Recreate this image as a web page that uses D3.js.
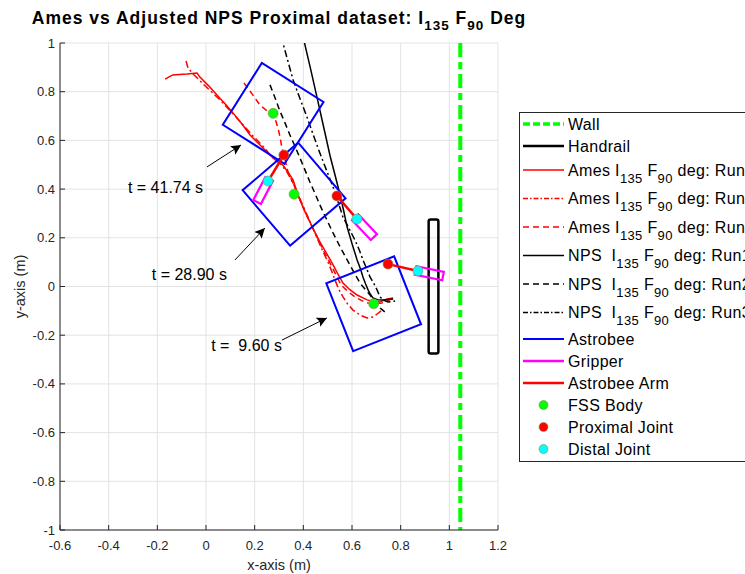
<!DOCTYPE html>
<html>
<head>
<meta charset="utf-8">
<script src="https://cdn.jsdelivr.net/npm/d3@7"></script>
<style>
  body { margin: 0; background: #fff; }
  svg text { font-family: Arial, "Liberation Sans", Helvetica, sans-serif; white-space: pre; }
</style>
</head>
<body>
<svg id="chart" width="745" height="574"></svg>
<script>
// ---------------- data ----------------
const titleText = "Ames vs Adjusted NPS Proximal dataset: I_{135} F_{90} Deg";
const xTicks = [-0.6, -0.4, -0.2, 0, 0.2, 0.4, 0.6, 0.8, 1, 1.2];
const xTickLabels = ["-0.6", "-0.4", "-0.2", "0", "0.2", "0.4", "0.6", "0.8", "1", "1.2"];
const yTicks = [-1, -0.8, -0.6, -0.4, -0.2, 0, 0.2, 0.4, 0.6, 0.8, 1];
const yTickLabels = ["-1", "-0.8", "-0.6", "-0.4", "-0.2", "0", "0.2", "0.4", "0.6", "0.8", "1"];

// trajectories [x, y] in metres
const amesRun1 = [[-0.168, 0.852], [-0.150, 0.862], [-0.136, 0.869], [-0.110, 0.871], [-0.078, 0.873], [-0.037, 0.877],
  [-0.025, 0.860], [0.010, 0.825], [0.045, 0.786], [0.080, 0.748], [0.111, 0.713], [0.150, 0.664], [0.181, 0.622],
  [0.222, 0.581], [0.263, 0.540], [0.290, 0.515], [0.316, 0.499], [0.340, 0.465], [0.358, 0.437], [0.372, 0.395],
  [0.386, 0.355], [0.405, 0.310], [0.427, 0.265], [0.448, 0.222], [0.468, 0.183], [0.493, 0.140], [0.518, 0.097],
  [0.540, 0.055], [0.563, 0.014], [0.590, -0.012], [0.621, -0.035], [0.662, -0.055], [0.690, -0.062],
  [0.715, -0.064], [0.744, -0.051], [0.769, -0.047]];
const amesRun2 = [[-0.082, 0.926], [-0.074, 0.897], [-0.053, 0.873], [-0.012, 0.832], [0.058, 0.766], [0.127, 0.692],
  [0.197, 0.614], [0.240, 0.570], [0.271, 0.532], [0.305, 0.505], [0.333, 0.470], [0.355, 0.430], [0.374, 0.388],
  [0.395, 0.340], [0.415, 0.294], [0.438, 0.242], [0.460, 0.191], [0.480, 0.145], [0.501, 0.101], [0.517, 0.062],
  [0.530, 0.027], [0.545, -0.010], [0.563, -0.043], [0.582, -0.072], [0.604, -0.097], [0.635, -0.118],
  [0.662, -0.129], [0.686, -0.125], [0.705, -0.112], [0.723, -0.097]];
const amesRun3 = [[0.156, 0.836], [0.190, 0.790], [0.222, 0.745], [0.250, 0.722], [0.271, 0.713], [0.285, 0.685],
  [0.296, 0.651], [0.305, 0.610], [0.312, 0.569], [0.325, 0.520], [0.337, 0.470], [0.358, 0.424], [0.378, 0.376],
  [0.398, 0.328], [0.419, 0.281], [0.444, 0.228], [0.468, 0.178], [0.490, 0.133], [0.514, 0.088], [0.535, 0.046],
  [0.555, 0.006], [0.585, -0.022], [0.612, -0.043], [0.640, -0.058], [0.666, -0.068], [0.700, -0.070],
  [0.723, -0.068], [0.756, -0.055]];
const npsRun1 = [[0.398, 1.030], [0.403, 1.008], [0.430, 0.893], [0.456, 0.778], [0.483, 0.657], [0.510, 0.536],
  [0.531, 0.455], [0.551, 0.376], [0.566, 0.310], [0.580, 0.244], [0.600, 0.176], [0.621, 0.109], [0.635, 0.072],
  [0.645, 0.039], [0.656, 0.010], [0.666, -0.014], [0.676, -0.033], [0.686, -0.047], [0.705, -0.054],
  [0.727, -0.055], [0.750, -0.053], [0.769, -0.051]];
const npsRun2 = [[0.263, 0.828], [0.284, 0.774], [0.304, 0.720], [0.325, 0.671], [0.345, 0.622], [0.366, 0.575],
  [0.386, 0.528], [0.407, 0.478], [0.427, 0.429], [0.448, 0.382], [0.468, 0.335], [0.495, 0.277], [0.522, 0.220],
  [0.551, 0.163], [0.580, 0.109], [0.607, 0.060], [0.633, 0.014], [0.655, -0.013], [0.674, -0.035],
  [0.690, -0.057], [0.703, -0.076], [0.720, -0.092], [0.736, -0.105]];
const npsRun3 = [[0.310, 1.030], [0.316, 1.000], [0.337, 0.924], [0.358, 0.848], [0.386, 0.772], [0.415, 0.696],
  [0.441, 0.622], [0.468, 0.548], [0.495, 0.478], [0.522, 0.409], [0.543, 0.347], [0.563, 0.285], [0.588, 0.238],
  [0.612, 0.191], [0.630, 0.150], [0.645, 0.109], [0.660, 0.074], [0.674, 0.039], [0.690, 0.012],
  [0.703, -0.014], [0.715, -0.043], [0.730, -0.056], [0.748, -0.064], [0.777, -0.060]];

// environment
const wallX = 1.045;
const handrailX = [0.915, 0.955];
const handrailY = [-0.275, 0.275];

// astrobee snapshots (t = 9.60 s, 28.90 s, 41.74 s)
const astrobeeSide = 0.30;
const bodyX = [0.689, 0.362, 0.276];
const bodyY = [-0.071, 0.379, 0.711];
const bodyAngle = [21.6, 40.5, 57.7];
const proxX = [0.748, 0.538, 0.320];
const proxY = [0.092, 0.372, 0.540];
const distX = [0.871, 0.620, 0.255];
const distY = [0.064, 0.277, 0.433];
const gripX = [0.974, 0.690, 0.210];
const gripY = [0.043, 0.203, 0.347];

// time annotations
const annotText = ["t = 41.74 s", "t = 28.90 s", "t =  9.60 s"];
const annotTextX = [-0.012, 0.086, 0.312];
const annotTextY = [0.384, 0.027, -0.265];
const arrowFromX = [0.004, 0.119, 0.312];
const arrowFromY = [0.491, 0.109, -0.220];
const arrowToX = [0.144, 0.242, 0.497];
const arrowToY = [0.581, 0.240, -0.129];

const legendLabels = ["Wall", "Handrail",
  "Ames I_{135} F_{90} deg: Run1", "Ames I_{135} F_{90} deg: Run2", "Ames I_{135} F_{90} deg: Run3",
  "NPS  I_{135} F_{90} deg: Run1", "NPS  I_{135} F_{90} deg: Run2", "NPS  I_{135} F_{90} deg: Run3",
  "Astrobee", "Gripper", "Astrobee Arm", "FSS Body", "Proximal Joint", "Distal Joint"];

// ---------------- layout ----------------
const margin = { top: 43, right: 247, bottom: 44, left: 60 };
const width = 745 - margin.left - margin.right;
const height = 574 - margin.top - margin.bottom;

const svg = d3.select("#chart");
const x = d3.scaleLinear().domain([-0.6, 1.2]).range([0, width]);
const y = d3.scaleLinear().domain([-1, 1]).range([height, 0]);

const dashStyles = { solid: null, dash: "6,4", dashdot: "7,3,2,3" };
const lineStyles = [
  { data: amesRun1, color: "#ff0000", dash: "solid", w: 1.5 },
  { data: amesRun2, color: "#ff0000", dash: "dashdot", w: 1.5 },
  { data: amesRun3, color: "#ff0000", dash: "dash", w: 1.5 },
  { data: npsRun1, color: "#000000", dash: "solid", w: 1.5 },
  { data: npsRun2, color: "#000000", dash: "dash", w: 1.5 },
  { data: npsRun3, color: "#000000", dash: "dashdot", w: 1.5 }
];

// write a MATLAB-like tex label with _{..} subscripts
function richText(sel, str, subSize, shift)
{
  const parts = str.split(/_\{([^}]*)\}/);
  parts.forEach((p, i) =>
  {
    if (p === "") return;
    const t = sel.append("tspan").text(p);
    if (i % 2 === 1) t.attr("font-size", subSize).attr("dy", shift);
    else if (i > 0) t.attr("dy", -shift);
  });
}

svg.append("defs").append("clipPath").attr("id", "clip")
  .append("rect").attr("width", width).attr("height", height);
svg.select("defs").append("marker")
  .attr("id", "arrow").attr("viewBox", "0 0 10 10")
  .attr("refX", 10).attr("refY", 5)
  .attr("markerWidth", 10).attr("markerHeight", 10)
  .attr("markerUnits", "userSpaceOnUse")
  .attr("orient", "auto")
  .append("path").attr("d", "M0,0 L10,5 L0,10 L2,5 Z").attr("fill", "#000");

const g = svg.append("g").attr("transform", `translate(${ margin.left }, ${ margin.top })`);

// grid
g.append("g").selectAll("line").data(xTicks).join("line")
  .attr("x1", d => x(d)).attr("x2", d => x(d)).attr("y1", 0).attr("y2", height)
  .attr("stroke", "#e3e3e3").attr("stroke-width", 1);
g.append("g").selectAll("line").data(yTicks).join("line")
  .attr("x1", 0).attr("x2", width).attr("y1", d => y(d)).attr("y2", d => y(d))
  .attr("stroke", "#e3e3e3").attr("stroke-width", 1);

const plot = g.append("g").attr("clip-path", "url(#clip)");

// wall
plot.append("line")
  .attr("x1", x(wallX)).attr("x2", x(wallX)).attr("y1", y(1)).attr("y2", y(-1))
  .attr("stroke", "#00ff00").attr("stroke-width", 4).attr("stroke-dasharray", "14,5,7,5");

// handrail
plot.append("rect")
  .attr("x", x(handrailX[0])).attr("y", y(handrailY[1]))
  .attr("width", x(handrailX[1]) - x(handrailX[0]))
  .attr("height", y(handrailY[0]) - y(handrailY[1]))
  .attr("rx", 2).attr("fill", "none").attr("stroke", "#000").attr("stroke-width", 2.5);

// trajectories
const line = d3.line().x(d => x(d[0])).y(d => y(d[1]));
plot.selectAll("path.traj").data(lineStyles).join("path")
  .attr("class", "traj")
  .attr("d", d => line(d.data))
  .attr("fill", "none")
  .attr("stroke", d => d.color)
  .attr("stroke-width", d => d.w)
  .attr("stroke-dasharray", d => dashStyles[d.dash]);

// astrobee snapshots
const poseIdx = d3.range(bodyX.length);
const squareCorners = i =>
{
  const a = bodyAngle[i] * Math.PI / 180, h = astrobeeSide / 2;
  return [[-h, -h], [h, -h], [h, h], [-h, h]].map(([u, v]) =>
    [bodyX[i] + u * Math.cos(a) - v * Math.sin(a), bodyY[i] + u * Math.sin(a) + v * Math.cos(a)]);
};
const gripperCorners = i =>
{
  const dx = gripX[i] - distX[i], dy = gripY[i] - distY[i];
  const len = Math.hypot(dx, dy), ux = dx / len, uy = dy / len, w = 0.0175;
  const sx = distX[i] - ux * 0.01, sy = distY[i] - uy * 0.01;
  return [[sx - uy * w, sy + ux * w], [gripX[i] - uy * w, gripY[i] + ux * w],
    [gripX[i] + uy * w, gripY[i] - ux * w], [sx + uy * w, sy - ux * w]];
};
const poly = pts => "M" + pts.map(p => `${ x(p[0]) },${ y(p[1]) }`).join("L") + "Z";

plot.selectAll("path.bee").data(poseIdx).join("path")
  .attr("class", "bee").attr("d", i => poly(squareCorners(i)))
  .attr("fill", "none").attr("stroke", "#0000ff").attr("stroke-width", 2);
plot.selectAll("path.grip").data(poseIdx).join("path")
  .attr("class", "grip").attr("d", i => poly(gripperCorners(i)))
  .attr("fill", "none").attr("stroke", "#ff00ff").attr("stroke-width", 2.2);
plot.selectAll("line.arm").data(poseIdx).join("line")
  .attr("class", "arm")
  .attr("x1", i => x(proxX[i])).attr("y1", i => y(proxY[i]))
  .attr("x2", i => x(distX[i])).attr("y2", i => y(distY[i]))
  .attr("stroke", "#ff0000").attr("stroke-width", 2.5);

const dot = (cx, cy, fill) => plot.selectAll(null).data(poseIdx).join("circle")
  .attr("cx", i => x(cx[i])).attr("cy", i => y(cy[i])).attr("r", 5)
  .attr("fill", fill).attr("stroke", "#8a8a50").attr("stroke-width", 0.6);
dot(bodyX, bodyY, "#00ff00");
dot(proxX, proxY, "#ff0000");
dot(distX, distY, "#00ffff");

// annotations
g.selectAll("line.annot").data(annotText).join("line")
  .attr("class", "annot")
  .attr("x1", (d, i) => x(arrowFromX[i])).attr("y1", (d, i) => y(arrowFromY[i]))
  .attr("x2", (d, i) => x(arrowToX[i])).attr("y2", (d, i) => y(arrowToY[i]))
  .attr("stroke", "#000").attr("stroke-width", 1)
  .attr("marker-end", "url(#arrow)");
g.selectAll("text.annot").data(annotText).join("text")
  .attr("class", "annot")
  .attr("x", (d, i) => x(annotTextX[i])).attr("y", (d, i) => y(annotTextY[i]))
  .attr("text-anchor", "end").attr("font-size", 16).attr("fill", "#000")
  .text(d => d);

// axes
g.append("line").attr("x1", 0).attr("x2", width).attr("y1", height).attr("y2", height)
  .attr("stroke", "#262626").attr("stroke-width", 1);
g.append("line").attr("x1", 0).attr("x2", 0).attr("y1", 0).attr("y2", height)
  .attr("stroke", "#262626").attr("stroke-width", 1);
g.append("g").selectAll("line").data(xTicks).join("line")
  .attr("x1", d => x(d)).attr("x2", d => x(d)).attr("y1", height).attr("y2", height - 5)
  .attr("stroke", "#262626");
g.append("g").selectAll("line").data(yTicks).join("line")
  .attr("x1", 0).attr("x2", 5).attr("y1", d => y(d)).attr("y2", d => y(d))
  .attr("stroke", "#262626");
g.append("g").selectAll("text").data(xTicks).join("text")
  .attr("x", d => x(d)).attr("y", height + 20)
  .attr("text-anchor", "middle").attr("font-size", 13).attr("fill", "#262626")
  .text((d, i) => xTickLabels[i]);
g.append("g").selectAll("text").data(yTicks).join("text")
  .attr("x", -5).attr("y", d => y(d) + 4.5)
  .attr("text-anchor", "end").attr("font-size", 13).attr("fill", "#262626")
  .text((d, i) => yTickLabels[i]);

g.append("text").attr("x", width / 2).attr("y", height + 40)
  .attr("text-anchor", "middle").attr("font-size", 14.5).attr("fill", "#262626")
  .text("x-axis (m)");
g.append("text").attr("transform", `translate(${ -35 }, ${ height / 2 }) rotate(-90)`)
  .attr("text-anchor", "middle").attr("font-size", 14.5).attr("fill", "#262626")
  .text("y-axis (m)");

// title
const title = svg.append("text")
  .attr("x", margin.left + width / 2).attr("y", 24)
  .attr("text-anchor", "middle").attr("font-size", 17.5).attr("font-weight", "bold")
  .attr("letter-spacing", 1).attr("fill", "#000");
richText(title, titleText, 13.5, 6);

// legend
const legendSamples = [
  { type: "line", color: "#00ff00", dash: "7,3", w: 3.5 },
  { type: "line", color: "#000000", dash: null, w: 2.5 },
  { type: "line", color: "#ff0000", dash: null, w: 1.5 },
  { type: "line", color: "#ff0000", dash: "5,2,1.5,2", w: 1.5 },
  { type: "line", color: "#ff0000", dash: "6,4", w: 1.5 },
  { type: "line", color: "#000000", dash: null, w: 1.5 },
  { type: "line", color: "#000000", dash: "6,4", w: 1.5 },
  { type: "line", color: "#000000", dash: "5,2,1.5,2", w: 1.5 },
  { type: "line", color: "#0000ff", dash: null, w: 2 },
  { type: "line", color: "#ff00ff", dash: null, w: 2.5 },
  { type: "line", color: "#ff0000", dash: null, w: 2.5 },
  { type: "dot", color: "#00ff00" },
  { type: "dot", color: "#ff0000" },
  { type: "dot", color: "#00ffff" }
];
let rowY = 124;
const rows = legendLabels.map((lab, i) =>
{
  if (i > 0)
  {
    const prevSub = legendLabels[i - 1].includes("_{"), curSub = lab.includes("_{");
    rowY += prevSub && curSub ? 28.5 : curSub ? 24 : prevSub ? 26.5 : 22;
  }
  return rowY;
});

const legend = svg.append("g");
legend.append("rect").attr("x", 519.5).attr("y", 112.5).attr("width", 260).attr("height", 349)
  .attr("fill", "#fff").attr("stroke", "#262626").attr("stroke-width", 1);
legendLabels.forEach((lab, i) =>
{
  const s = legendSamples[i], ly = rows[i];
  if (s.type === "line")
  {
    legend.append("line").attr("x1", 523).attr("x2", 564).attr("y1", ly).attr("y2", ly)
      .attr("stroke", s.color).attr("stroke-width", s.w).attr("stroke-dasharray", s.dash);
  }
  else
  {
    legend.append("circle").attr("cx", 543.5).attr("cy", ly).attr("r", 4.5)
      .attr("fill", s.color).attr("stroke", "#8a8a50").attr("stroke-width", 0.6);
  }
  const t = legend.append("text").attr("x", 568).attr("y", ly + 5.5)
    .attr("font-size", 16).attr("letter-spacing", 0.35).attr("fill", "#000");
  richText(t, lab, 13, 7);
});
</script>
</body>
</html>
